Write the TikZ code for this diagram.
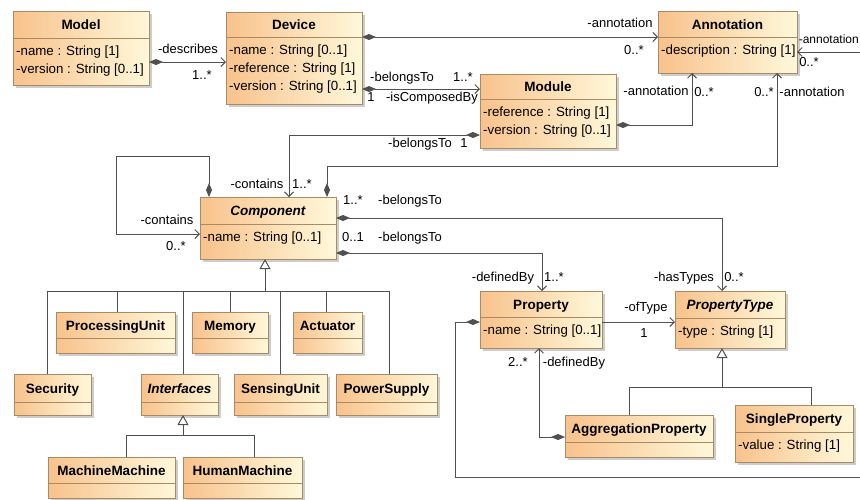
\documentclass[tikz,border=0pt]{standalone}
\usepackage{fontspec}
\setmainfont{Liberation Sans}
\usetikzlibrary{arrows.meta,fit,calc}
\definecolor{clsL}{RGB}{248,194,140}
\definecolor{clsR}{RGB}{255,248,218}
\definecolor{clsB}{RGB}{168,138,100}
\definecolor{linec}{RGB}{80,80,80}
\definecolor{shadowc}{RGB}{205,205,205}
\tikzset{
 cls/.style={draw=clsB, line width=0.9pt, left color=clsL, right color=clsR, inner sep=0pt, outer sep=0pt},
 sepline/.style={draw=clsB, line width=0.9pt},
 ttl/.style={font=\fontsize{13.5}{16}\selectfont\bfseries, inner sep=0pt, anchor=base},
 attr/.style={font=\fontsize{13.3}{16}\selectfont, inner sep=0pt, anchor=base west},
 lbl/.style={font=\fontsize{13}{15}\selectfont, inner sep=0pt, text height=9.5pt, text depth=2.5pt},
 conn/.style={draw=linec, line width=1pt},
 assoc/.style={conn, arrows={Diamond[length=14pt,width=6pt]-Straight Barb[length=4.5pt,width=9pt]}},
 nav/.style={conn, arrows={-Straight Barb[length=4.5pt,width=9pt]}},
 gen/.style={conn, arrows={-Triangle[open,length=10pt,width=11pt,fill=white]}},
}
\newcommand\umlclass[7]{%
 \fill[shadowc] (#2+3,#3+3) rectangle (#4+3,#5+3);
 \node[cls, fit={(#2,#3) (#4,#5)}] (#1) {};
 \draw[sepline] (#2,#6) -- (#4,#6);
 \node[ttl] (#1-t) at ({(#2+#4)/2},{(#3+#6)/2+5}) {#7};
}
\newcommand\umlattrs[4]{%
 \foreach \t [count=\i] in {#4} {\node[attr] (#1-a\i) at (#2+3,{#3+17+18*(\i-1)}) {\t};}
}
\begin{document}
\begin{tikzpicture}[x=1pt,y=-1pt]
\useasboundingbox (0,0) rectangle (860,499);
\clip (0,0) rectangle (860,499);
\fill[white] (0,0) rectangle (860,499);
% classes
\umlclass{model}{13}{11}{149}{85}{38}{Model}
\umlattrs{model}{13}{38}{-name : String [1], -version : String [0..1]}
\umlclass{device}{226}{12}{362}{104}{37}{Device}
\umlattrs{device}{226}{37}{-name : String [0..1], -reference : String [1], -version : String [0..1]}
\umlclass{annotation}{658}{11}{797}{73}{37}{Annotation}
\umlattrs{annotation}{658}{37}{-description : String [1]}
\umlclass{module}{480}{74}{616}{148}{99}{Module}
\umlattrs{module}{480}{99}{-reference : String [1], -version : String [0..1]}
\umlclass{component}{200}{197}{336}{259}{224}{\textit{Component}}
\umlattrs{component}{200}{224}{-name : String [0..1]}
\umlclass{property}{480}{291}{602}{348}{317}{Property}
\umlattrs{property}{480}{317}{-name : String [0..1]}
\umlclass{ptype}{675}{291}{785}{348}{318}{\textit{PropertyType}}
\umlattrs{ptype}{675}{318}{-type : String [1]}
\umlclass{aggprop}{565}{415}{713}{457}{442}{AggregationProperty}
\umlclass{singleprop}{735}{405}{853}{462}{432}{SingleProperty}
\umlattrs{singleprop}{735}{432}{-value : String [1]}
\umlclass{procunit}{56}{312}{175}{353}{338}{ProcessingUnit}
\umlclass{memory}{192}{312}{268}{353}{338}{Memory}
\umlclass{actuator}{293}{312}{362}{353}{338}{Actuator}
\umlclass{security}{14}{374}{91}{415}{402}{Security}
\umlclass{interfaces}{141}{374}{218}{415}{402}{\textit{Interfaces}}
\umlclass{sensing}{234}{374}{327}{415}{402}{SensingUnit}
\umlclass{power}{336}{374}{437}{415}{402}{PowerSupply}
\umlclass{mm}{48}{457}{175}{498}{483}{MachineMachine}
\umlclass{hm}{183}{457}{302}{498}{483}{HumanMachine}
% associations
\coordinate (d1) at ($(model.north east)+(0,51)$);
\draw[assoc] (d1) -- (d1 -| device.west);
\coordinate (d2) at ($(device.north east)+(0,25)$);
\draw[assoc] (d2) -- (d2 -| annotation.west);
\coordinate (d3) at ($(device.north east)+(0,77)$);
\draw[assoc] (d3) -- (d3 -| module.west);
\draw[assoc] ($(module.north east)+(0,51)$) -| ($(annotation.south west)+(34,0)$);
\draw[assoc] ($(module.north west)+(0,61)$) -| ($(component.north west)+(89,0)$);
\draw[assoc] ($(component.north west)+(127,0)$) -- ++(0,-31) -| ($(annotation.south west)+(119,0)$);
\draw[assoc] ($(component.north west)+(9,0)$) -- ++(0,-41) -- ++(-93,0) |- ($(component.north west)+(0,37)$);
\draw[assoc] ($(component.north east)+(0,21)$) -| ($(ptype.north west)+(47,0)$);
\draw[assoc] ($(component.north east)+(0,56)$) -| ($(property.north west)+(62,0)$);
\coordinate (d4) at ($(property.north east)+(0,31)$);
\draw[nav] (d4) -- (d4 -| ptype.west);
\coordinate (rb) at (890,477);
\draw[assoc] ($(property.north west)+(0,31)$) -- ++(-25,0) |- (rb) |- ($(annotation.north east)+(0,41)$);
\draw[assoc] ($(aggprop.north west)+(0,22)$) -| ($(property.south west)+(59,0)$);
% generalizations
\coordinate (cbus) at ($(component.south west)+(65,32)$);
\draw[conn] ($(security.north west)+(33,0)$) |- (cbus);
\draw[conn] ($(procunit.north west)+(61,0)$) |- (cbus);
\draw[conn] ($(interfaces.north west)+(42,0)$) |- (cbus);
\draw[conn] ($(memory.north west)+(38,0)$) |- (cbus);
\draw[conn] ($(sensing.north west)+(46,0)$) |- (cbus);
\draw[conn] ($(actuator.north west)+(33,0)$) |- (cbus);
\draw[conn] ($(power.north west)+(53,0)$) |- (cbus);
\draw[gen] (cbus) -- (cbus |- component.south);
\coordinate (ibus) at ($(interfaces.south west)+(42,20)$);
\draw[conn] ($(mm.north west)+(78,0)$) |- (ibus);
\draw[conn] ($(hm.north west)+(71,0)$) |- (ibus);
\draw[gen] (ibus) -- (ibus |- interfaces.south);
\coordinate (pbus) at ($(ptype.south west)+(47,39)$);
\draw[conn] ($(aggprop.north west)+(64,0)$) |- (pbus);
\draw[conn] ($(singleprop.north west)+(76,0)$) |- (pbus);
\draw[gen] (pbus) -- (pbus |- ptype.south);
% labels
\node[lbl] (l1) at (188,50) {-describes};
\node[lbl] (l2) at (202,76) {1..*};
\node[lbl] (l3) at (620,24) {-annotation};
\node[lbl] (l4) at (634,51) {0..*};
\node[lbl] (l5) at (402,78) {-belongsTo};
\node[lbl] (l6) at (463,78) {1..*};
\node[lbl] (l7) at (371,98) {1};
\node[lbl] (l8) at (432,98) {-isComposedBy};
\node[lbl] (l9) at (420,144) {-belongsTo};
\node[lbl] (l10) at (464,144) {1};
\node[lbl] (l11) at (656,92) {-annotation};
\node[lbl] (l12) at (704,93) {0..*};
\node[lbl] (l13) at (764,93) {0..*};
\node[lbl] (l14) at (812,93) {-annotation};
\node[lbl, anchor=east, font=\fontsize{12}{14}\selectfont] (l15) at (859,40) {-annotation};
\node[lbl] (l16) at (809,63) {0..*};
\node[lbl] (l17) at (257,185) {-contains};
\node[lbl] (l18) at (302,185) {1..*};
\node[lbl] (l19) at (167,221) {-contains};
\node[lbl] (l20) at (176,247) {0..*};
\node[lbl] (l21) at (353,201) {1..*};
\node[lbl] (l22) at (410,201) {-belongsTo};
\node[lbl] (l23) at (353,238) {0..1};
\node[lbl] (l24) at (410,238) {-belongsTo};
\node[lbl] (l25) at (503,278) {-definedBy};
\node[lbl] (l26) at (554,278) {1..*};
\node[lbl] (l27) at (684,278) {-hasTypes};
\node[lbl] (l28) at (734,278) {0..*};
\node[lbl] (l29) at (646,308) {-ofType};
\node[lbl] (l30) at (644,334) {1};
\node[lbl] (l31) at (518,363) {2..*};
\node[lbl] (l32) at (574,363) {-definedBy};
\end{tikzpicture}
\end{document}
